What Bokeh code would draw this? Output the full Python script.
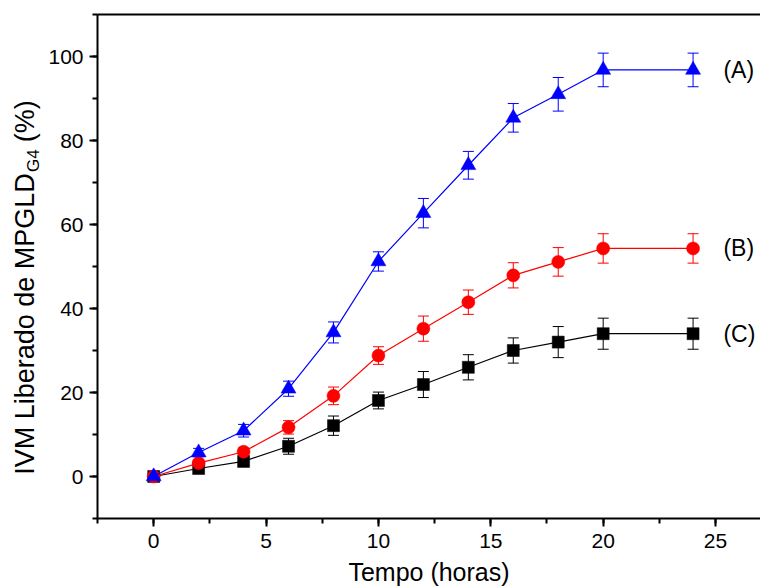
import math
from bokeh.plotting import figure
from bokeh.layouts import row
from bokeh.core.properties import value
from bokeh.models import (ColumnDataSource, Whisker, TeeHead, Label, LinearAxis,
                          Range1d, SingleIntervalTicker, FixedTicker)
from bokeh.embed import file_html
from bokeh.resources import INLINE

# ---- data ----
tempo = [0, 2, 4, 6, 8, 10, 12, 14, 16, 18, 20, 24]
serie_a = [0, 5.7, 10.9, 20.9, 34.3, 51.2, 62.7, 74.1, 85.4, 91.0, 96.8, 96.8]
erro_a = [0.8, 1.0, 1.5, 1.8, 2.5, 2.3, 3.5, 3.3, 3.4, 4.0, 4.0, 4.0]
serie_b = [0, 3.2, 5.9, 11.7, 19.2, 28.8, 35.2, 41.5, 47.9, 51.1, 54.3, 54.3]
erro_b = [0.5, 0.8, 0.9, 1.6, 2.1, 2.1, 3.0, 2.9, 3.0, 3.4, 3.5, 3.5]
serie_c = [0, 1.9, 3.6, 7.2, 12.1, 18.1, 21.9, 26.0, 30.0, 32.0, 34.0, 34.0]
erro_c = [0.5, 0.8, 0.8, 1.9, 2.3, 2.0, 3.1, 3.0, 3.0, 3.7, 3.7, 3.7]
rotulos = ["(A)", "(B)", "(C)"]
titulo_x = "Tempo (horas)"
titulo_y = ["IVM Liberado de MPGLD", "G4", "(%)"]
x_ticks_interval = 5
y_ticks_interval = 20

FONT = "Liberation Sans"
W_LEFT = 44
H = 588

# ---- main plot ----
p = figure(width=760 - W_LEFT, height=H, output_backend="svg", toolbar_location=None,
           x_range=Range1d(-2.5, 27.0), y_range=Range1d(-10, 110),
           min_border_left=97 - W_LEFT, min_border_right=0, min_border_top=14,
           min_border_bottom=70)
p.outline_line_color = None
p.xgrid.visible = False
p.ygrid.visible = False
p.background_fill_color = "white"
p.border_fill_color = "white"

for ax in (p.xaxis[0], p.yaxis[0]):
    ax.axis_line_width = 2
    ax.major_tick_line_width = 2
    ax.minor_tick_line_width = 2
    ax.major_tick_out = 8
    ax.major_tick_in = 0
    ax.minor_tick_out = 5
    ax.minor_tick_in = 0
    ax.major_label_text_font = FONT
    ax.major_label_text_font_size = "21px"
    ax.major_label_text_color = "black"
    ax.axis_line_color = "black"
    ax.major_tick_line_color = "black"
    ax.minor_tick_line_color = "black"

p.xaxis[0].ticker = SingleIntervalTicker(interval=x_ticks_interval, num_minor_ticks=2)
p.yaxis[0].ticker = SingleIntervalTicker(interval=y_ticks_interval, num_minor_ticks=2)
p.xaxis[0].major_label_standoff = 7
p.yaxis[0].major_label_standoff = 6

p.xaxis[0].axis_label = titulo_x
p.xaxis[0].axis_label_text_font = FONT
p.xaxis[0].axis_label_text_font_size = "25px"
p.xaxis[0].axis_label_text_font_style = "normal"
p.xaxis[0].axis_label_text_color = "black"
p.xaxis[0].axis_label_standoff = 7

top = LinearAxis(ticker=FixedTicker(ticks=[], minor_ticks=[]))
top.axis_line_width = 2
top.major_tick_out = 0
top.minor_tick_out = 0
top.major_label_standoff = 0
p.add_layout(top, "above")

series = [
    (serie_c, erro_c, "black", "square", 12),
    (serie_b, erro_b, "#ff0000", "circle", 13),
    (serie_a, erro_a, "#0000ff", "triangle", 15),
]

for vals, errs, color, marker, size in series:
    src = ColumnDataSource(dict(
        t=tempo, v=vals,
        up=[v + e for v, e in zip(vals, errs)],
        lo=[v - e for v, e in zip(vals, errs)],
    ))
    p.line("t", "v", source=src, line_color=color, line_width=1.2)
    w = Whisker(source=src, base="t", upper="up", lower="lo",
                line_color=color, line_width=1,
                upper_head=TeeHead(size=11, line_color=color, line_width=1),
                lower_head=TeeHead(size=11, line_color=color, line_width=1))
    p.add_layout(w)
    p.scatter("t", "v", source=src, marker=marker, size=size,
              fill_color=color, line_color=color, line_width=0.5)

for txt, vals in zip(rotulos, [serie_a, serie_b, serie_c]):
    p.add_layout(Label(x=25.35, y=vals[-1], text=txt, text_font=FONT,
                       text_font_size="23px", text_baseline="middle",
                       text_align="left", text_color="black"))

# ---- left strip holding the y-axis title (with subscript) ----
# shares the main y range so the title lines up with the plot frame
q = figure(width=W_LEFT, height=H, output_backend="svg", toolbar_location=None,
           x_range=Range1d(0, W_LEFT), y_range=p.y_range,
           x_axis_location=None, y_axis_location=None,
           min_border=0, min_border_left=0, min_border_right=0,
           min_border_top=14, min_border_bottom=70)
q.outline_line_color = None
q.xgrid.visible = False
q.ygrid.visible = False
q.border_fill_color = "white"
q.background_fill_color = "white"

ang = math.pi / 2
q.text(x=[24], y=[0.4], text=[titulo_y[0]], angle=ang,
       text_font=value(FONT), text_font_size="27px", text_align="left",
       text_baseline="middle", text_color="black")
q.text(x=[32.5], y=[72.5], text=[titulo_y[1]], angle=ang,
       text_font=value(FONT), text_font_size="17px", text_align="left",
       text_baseline="middle", text_color="black")
q.text(x=[24], y=[79.6], text=[titulo_y[2]], angle=ang,
       text_font=value(FONT), text_font_size="27px", text_align="left",
       text_baseline="middle", text_color="black")

layout = row(q, p, spacing=0)
open("out.html", "w").write(file_html(layout, INLINE))
